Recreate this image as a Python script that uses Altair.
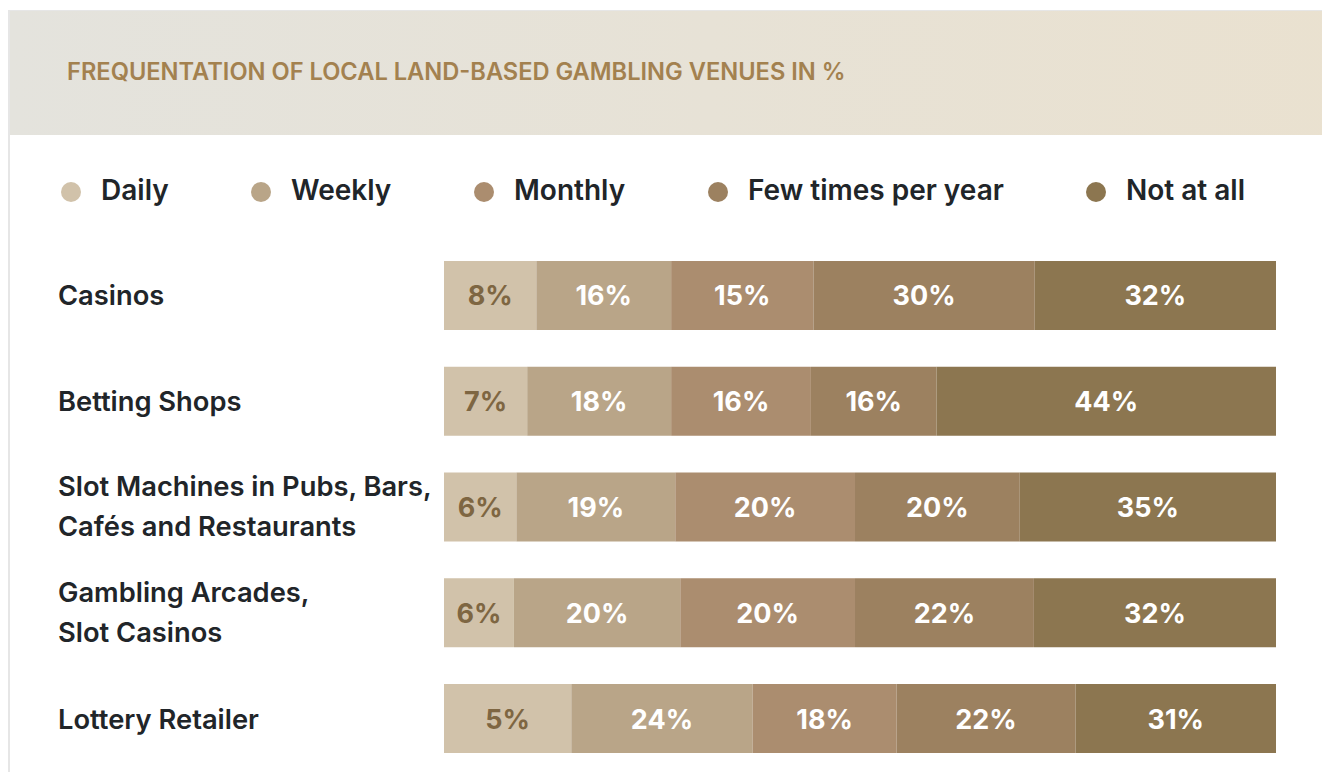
import altair as alt
import pandas as pd

# ---------------- data ----------------
venues = [
    "Casinos",
    "Betting Shops",
    "Slot Machines in Pubs, Bars,\nCafés and Restaurants",
    "Gambling Arcades,\nSlot Casinos",
    "Lottery Retailer",
]
frequencies = ["Daily", "Weekly", "Monthly", "Few times per year", "Not at all"]

# printed percentages
label_casinos = [8, 16, 15, 30, 32]
label_betting = [7, 18, 16, 16, 44]
label_slots = [6, 19, 20, 20, 35]
label_arcades = [6, 20, 20, 22, 32]
label_lottery = [5, 24, 18, 22, 31]

# segment lengths as drawn (share of the full bar, %)
share_casinos = [11.1, 16.2, 17.1, 26.6, 29.0]
share_betting = [10.0, 17.3, 16.8, 15.1, 40.8]
share_slots = [8.7, 19.1, 21.6, 19.8, 30.8]
share_arcades = [8.4, 20.0, 21.0, 21.5, 29.1]
share_lottery = [15.3, 21.8, 17.3, 21.5, 24.1]

bar_colors = ["#D1C2AA", "#B9A588", "#AB8D6F", "#9C8160", "#8C7650"]
title_text = "FREQUENTATION OF LOCAL LAND-BASED GAMBLING VENUES IN %"

labels = [label_casinos, label_betting, label_slots, label_arcades, label_lottery]
shares = [share_casinos, share_betting, share_slots, share_arcades, share_lottery]

rows = []
for v, labs, shs in zip(venues, labels, shares):
    start = 0.0
    for i, (f, lab, sh) in enumerate(zip(frequencies, labs, shs)):
        rows.append({
            "venue": v, "freq": f, "order": i,
            "start": start, "end": start + sh, "mid": start + sh / 2,
            "label": f"{lab}%",
        })
        start += sh
df = pd.DataFrame(rows)

cats = pd.DataFrame({"venue": venues})
cats["lines"] = cats["venue"].str.count("\n") + 1

FONT = "Inter"
W, H = 1314, 764

xscale = alt.Scale(domain=[0, 100], range=[436, 1268])
yscale = alt.Scale(domain=venues, range=[234.6, 763.4], paddingInner=0.3475, paddingOuter=0.17375)

one = pd.DataFrame({"k": [0]})

card = alt.Chart(one).mark_rect(fill="white", stroke="#E6E6E6", strokeWidth=2).encode(
    x=alt.value(1), x2=alt.value(1400), y=alt.value(3), y2=alt.value(900)
)

header = alt.Chart(one).mark_rect(
    color=alt.LinearGradient(
        gradient="linear",
        stops=[alt.GradientStop(color="#E4E3DD", offset=0),
               alt.GradientStop(color="#EAE1CF", offset=1)],
        x1=0, x2=1, y1=0, y2=0,
    )
).encode(x=alt.value(2), x2=alt.value(1400), y=alt.value(3), y2=alt.value(127))

title = alt.Chart(one).mark_text(
    text=title_text, align="left", baseline="middle", font=FONT,
    fontSize=23.65, fontWeight=600, color="#A3814F",
).encode(x=alt.value(59), y=alt.value(64.5))

bars = alt.Chart(df).mark_rect(strokeWidth=0).encode(
    x=alt.X("start:Q", scale=xscale, axis=None),
    x2="end:Q",
    y=alt.Y("venue:N", scale=yscale, axis=None),
    color=alt.Color(
        "freq:N",
        scale=alt.Scale(domain=frequencies, range=bar_colors),
        legend=alt.Legend(
            title=None, orient="none", legendX=49, legendY=170,
            direction="horizontal", symbolType="circle", symbolSize=400,
            symbolStrokeWidth=0, symbolOpacity=1, labelFont=FONT,
            labelFontSize=28, labelFontWeight=600, labelColor="#212529",
            labelOffset=16, columnPadding=78, labelLimit=0,
        ),
    ),
)

seg_text = alt.Chart(df).mark_text(
    font=FONT, fontSize=27, fontWeight=700, baseline="middle", align="center", dy=2
).encode(
    x=alt.X("mid:Q", scale=xscale, axis=None),
    y=alt.Y("venue:N", scale=yscale, axis=None),
    text="label:N",
    color=alt.condition(alt.datum.freq == "Daily", alt.value("#7E6642"), alt.value("#FFFFFF")),
)

cat_base = alt.Chart(cats).encode(
    x=alt.value(50),
    y=alt.Y("venue:N", scale=yscale, axis=None),
    text="venue:N",
)
cat_style = dict(font=FONT, fontSize=27.3, fontWeight=600, align="left", baseline="middle",
                 lineBreak="\n", lineHeight=40, color="#212529")
cat_single = cat_base.transform_filter(alt.datum.lines == 1).mark_text(dy=2, **cat_style)
cat_double = cat_base.transform_filter(alt.datum.lines == 2).mark_text(dy=-19, **cat_style)

chart = alt.layer(card, header, title, bars, seg_text, cat_single, cat_double).properties(
    width=W, height=H, autosize="none", padding=0, background="white"
).configure_view(stroke=None)

chart.save("out.html", embed_options={"renderer": "svg", "actions": False})
